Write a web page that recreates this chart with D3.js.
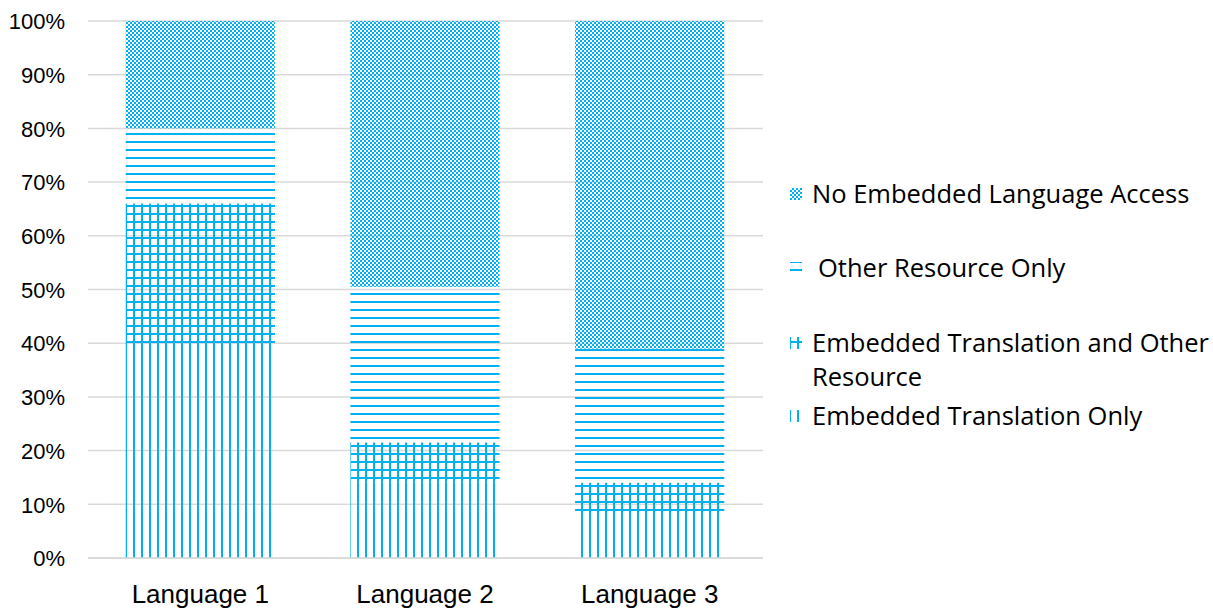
<!DOCTYPE html>
<html>
<head>
<meta charset="utf-8">
<script src="https://cdn.jsdelivr.net/npm/d3@7"></script>
<style>
  html, body { margin: 0; padding: 0; background: #fff; }
  svg { display: block; font-family: "Open Sans", "Noto Sans", sans-serif; }
</style>
</head>
<body>
<svg id="chart" width="1213" height="609"></svg>
<script>
// Share of access type per language (percent of total)
const categories = ["Language 1", "Language 2", "Language 3"];
const seriesNames = [
  "Embedded Translation Only",
  "Embedded Translation and Other Resource",
  "Other Resource Only",
  "No Embedded Language Access"
];
const embeddedOnly = [40, 14, 8];
const embeddedAndOther = [26, 7.5, 6];
const otherOnly = [14, 29, 25];
const noAccess = [20, 49.5, 61];
const yTicks = [0, 10, 20, 30, 40, 50, 60, 70, 80, 90, 100];

const blue = "#00B0F0";
const svg = d3.select("#chart");
const margin = { left: 88, right: 451, top: 21, bottom: 51 };
const W = 1213, H = 609;

const x = d3.scaleBand().domain(categories)
  .range([margin.left, W - margin.right]).paddingInner(0.336).paddingOuter(0.168);
const y = d3.scaleLinear().domain([0, 100]).range([H - margin.bottom, margin.top]);

// Fill patterns
const defs = svg.append("defs");
function pat(id, draw, size) {
  const p = defs.append("pattern").attr("id", id).attr("patternUnits", "userSpaceOnUse")
    .attr("width", size).attr("height", size);
  draw(p);
}
pat("p-vert", p => {
  p.append("rect").attr("x", 5).attr("y", 0).attr("width", 2).attr("height", 8).attr("fill", blue);
}, 8);
pat("p-horz", p => {
  p.append("rect").attr("x", 0).attr("y", 5).attr("width", 8).attr("height", 2).attr("fill", blue);
}, 8);
pat("p-cross", p => {
  p.append("rect").attr("x", 5).attr("y", 0).attr("width", 2).attr("height", 8).attr("fill", blue);
  p.append("rect").attr("x", 0).attr("y", 5).attr("width", 8).attr("height", 2).attr("fill", blue);
}, 8);
pat("p-check", p => {
  const cells = [[0,0],[4,0],[2,2],[6,2],[0,4],[4,4],[2,6],[6,6]];
  cells.forEach(([cx, cy]) => p.append("rect").attr("x", cx).attr("y", cy)
    .attr("width", 2).attr("height", 2).attr("fill", blue));
}, 8);

const fills = ["url(#p-vert)", "url(#p-cross)", "url(#p-horz)", "url(#p-check)"];

// Gridlines
svg.append("g").selectAll("line").data(yTicks).join("line")
  .attr("x1", margin.left).attr("x2", W - margin.right + 1)
  .attr("y1", d => y(d)).attr("y2", d => y(d))
  .attr("stroke", "#d9d9d9").attr("stroke-width", 1.5);

// Y axis labels
const yAxis = d3.axisLeft(y).tickValues(yTicks).tickFormat(d => d + "%").tickSize(0).tickPadding(23);
const ya = svg.append("g").attr("transform", `translate(${margin.left},0)`).call(yAxis);
ya.select(".domain").remove();
ya.selectAll("text").attr("font-size", 22).attr("fill", "#000").attr("dy", "0.35em");

// Stacked bars
const rows = categories.map((c, i) => ({
  cat: c,
  v0: embeddedOnly[i], v1: embeddedAndOther[i], v2: otherOnly[i], v3: noAccess[i]
}));
const stack = d3.stack().keys(["v0", "v1", "v2", "v3"])(rows);
svg.append("g").selectAll("g").data(stack).join("g")
  .attr("fill", (d, i) => fills[i])
  .selectAll("rect").data(d => d).join("rect")
  .attr("x", d => x(d.data.cat))
  .attr("width", x.bandwidth())
  .attr("y", d => y(d[1]))
  .attr("height", d => y(d[0]) - y(d[1]));

// X axis line and labels
svg.append("line").attr("x1", margin.left).attr("x2", W - margin.right + 1)
  .attr("y1", y(0)).attr("y2", y(0)).attr("stroke", "#d9d9d9").attr("stroke-width", 1.5);
const xAxis = d3.axisBottom(x).tickSize(0).tickPadding(27);
const xa = svg.append("g").attr("transform", `translate(0,${y(0)})`).call(xAxis);
xa.select(".domain").remove();
xa.selectAll("text").attr("font-size", 26).attr("fill", "#000").attr("dy", "0.71em");

// Legend
const legend = [
  { fill: fills[3], lines: ["No Embedded Language Access"], cy: 194, dx: 0 },
  { fill: fills[2], lines: ["Other Resource Only"], cy: 268, dx: 6 },
  { fill: fills[1], lines: ["Embedded Translation and Other", "Resource"], cy: 343, dx: 0 },
  { fill: fills[0], lines: ["Embedded Translation Only"], cy: 416, dx: 0 }
];
const lg = svg.append("g");
legend.forEach(it => {
  lg.append("rect").attr("x", 790).attr("y", it.cy - 6).attr("width", 12).attr("height", 12)
    .attr("fill", it.fill);
  const t = lg.append("text").attr("x", 812 + it.dx).attr("y", it.cy)
    .attr("font-size", 25.5).attr("fill", "#000");
  it.lines.forEach((ln, k) => t.append("tspan").attr("x", 812 + it.dx)
    .attr("dy", k === 0 ? "0.35em" : 34).text(ln));
});
</script>
</body>
</html>
